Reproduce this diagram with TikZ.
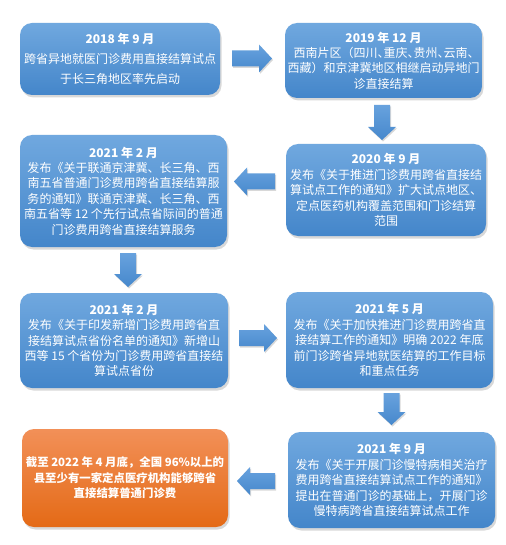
\documentclass[tikz,border=0pt]{standalone}
\usepackage{fontspec}
\setmainfont{Noto Sans CJK SC}
\usetikzlibrary{shadows}
\definecolor{bluetop}{RGB}{112,168,223}
\definecolor{bluebot}{RGB}{68,134,202}
\definecolor{arrtop}{RGB}{104,162,222}
\definecolor{arrbot}{RGB}{70,136,204}
\definecolor{orgtop}{RGB}{242,144,88}
\definecolor{orgbot}{RGB}{228,106,22}
\newcommand\hw[1]{{\addfontfeature{RawFeature=+halt}#1}}
\tikzset{
  x=1pt, y=-1pt,
  card/.style={rounded corners=12pt, top color=bluetop, bottom color=bluebot,
    draw=none, text=white, align=center, inner sep=2pt,
    font=\fontsize{12}{15.4}\selectfont,
    drop shadow={opacity=0.3, shadow xshift=1.5pt, shadow yshift=-2.5pt}},
  ocard/.style={card, top color=orgtop, bottom color=orgbot},
  arrfill/.style={top color=arrtop, bottom color=arrbot, draw=none,
    drop shadow={opacity=0.3, shadow xshift=1pt, shadow yshift=-1.5pt}}
}
% horizontal arrow: tail x, tip x, centre y
\newcommand\harr[3]{%
  \pgfmathsetmacro\hb{#2>#1 ? #2-13 : #2+13}%
  \path[arrfill] (#1,#3-8) -- (\hb,#3-8) -- (\hb,#3-14) -- (#2,#3)
    -- (\hb,#3+14) -- (\hb,#3+8) -- (#1,#3+8) -- cycle;}
% vertical arrow: centre x, tail y, tip y
\newcommand\varr[3]{%
  \pgfmathsetmacro\vb{#3-13}%
  \path[arrfill] (#1-8,#2) -- (#1-8,\vb) -- (#1-14,\vb) -- (#1,#3)
    -- (#1+14,\vb) -- (#1+8,\vb) -- (#1+8,#2) -- cycle;}
\begin{document}
\begin{tikzpicture}
\useasboundingbox[fill=white] (0,0) rectangle (505,545);

\node[card, minimum width=200pt, minimum height=72pt,
  font=\fontsize{12}{20}\selectfont] (b1) at (120,59)
  {\textbf{2018 年 9 月}\\跨省异地就医门诊费用直接结算试点\\于长三角地区率先启动};

\node[card, minimum width=197pt, minimum height=75pt] (b2) at (383.5,60.5)
  {\textbf{2019 年 12 月}\\西南片区（四川\hw{、}重庆\hw{、}贵州\hw{、}云南\hw{、}\\西藏）和京津冀地区相继启动异地门\\诊直接结算};

\node[card, minimum width=200pt, minimum height=92pt] (b3) at (386,190)
  {\textbf{2020 年 9 月}\\发布《关于推进门诊费用跨省直接结\\算试点工作的通知》扩大试点地区、\\定点医药机构覆盖范围和门诊结算\\范围};

\node[card, minimum width=207pt, minimum height=112pt] (b4) at (123.5,191)
  {\textbf{2021 年 2 月}\\发布《关于联通京津冀、长三角、西\\南五省普通门诊费用跨省直接结算服\\务的通知》联通京津冀、长三角、西\\南五省等 12 个先行试点省际间的普通\\门诊费用跨省直接结算服务};

\node[card, minimum width=208pt, minimum height=95pt] (b5) at (124,340.5)
  {\textbf{2021 年 2 月}\\发布《关于印发新增门诊费用跨省直\\接结算试点省份名单的通知》新增山\\西等 15 个省份为门诊费用跨省直接结\\算试点省份};

\node[card, minimum width=207pt, minimum height=96pt] (b6) at (389.5,340)
  {\textbf{2021 年 5 月}\\发布《关于加快推进门诊费用跨省直\\接结算工作的通知》明确 2022 年底\\前门诊跨省异地就医结算的工作目标\\和重点任务};

\node[card, minimum width=207pt, minimum height=96pt] (b7) at (391.5,480)
  {\textbf{2021 年 9 月}\\发布《关于开展门诊慢特病相关治疗\\费用跨省直接结算试点工作的通知》\\提出在普通门诊的基础上，开展门诊\\慢特病跨省直接结算试点工作};

\node[ocard, minimum width=206pt, minimum height=98pt,
  font=\bfseries\fontsize{11.4}{15.4}\selectfont] (b8) at (125,478)
  {截至 2022 年 4 月底，全国 96\%以上的\\县至少有一家定点医疗机构能够跨省\\直接结算普通门诊费};

\harr{232}{272}{58.5}
\varr{382}{105}{140}
\harr{275}{234}{181.5}
\varr{128}{253}{287}
\harr{239}{277}{338}
\varr{391.5}{393}{425}
\harr{275}{237}{481}
\end{tikzpicture}
\end{document}
